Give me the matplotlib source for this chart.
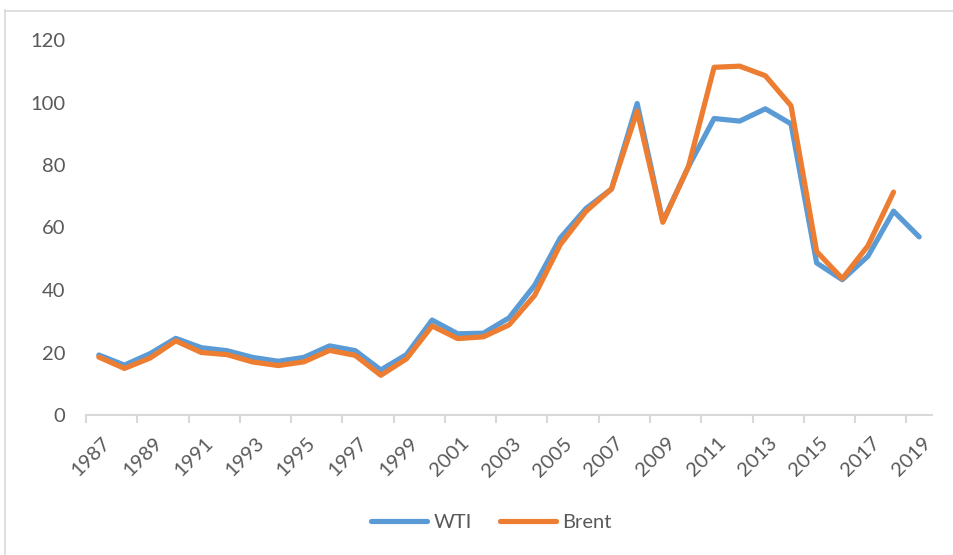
import numpy as np
import matplotlib
matplotlib.use('Agg')
import matplotlib.pyplot as plt
import matplotlib.transforms as mtransforms
from matplotlib.lines import Line2D

# Prix annuels moyens du pétrole (USD / baril)
years = list(range(1987, 2020))
wti = [19.20, 15.97, 19.64, 24.53, 21.54, 20.58, 18.43, 17.20, 18.43, 22.12,
       20.61, 14.42, 19.34, 30.38, 25.98, 26.18, 31.08, 41.51, 56.64, 66.05,
       72.34, 99.67, 61.95, 79.48, 94.88, 94.05, 97.98, 93.17, 48.66, 43.29,
       50.80, 65.23, 56.99]
brent = [18.53, 14.91, 18.23, 23.73, 20.00, 19.32, 16.97, 15.82, 17.02, 20.67,
         19.09, 12.72, 17.97, 28.50, 24.44, 25.02, 28.83, 38.27, 54.52, 65.14,
         72.39, 97.26, 61.67, 79.50, 111.26, 111.63, 108.56, 98.97, 52.32, 43.64,
         54.13, 71.34]

plt.rcParams['font.family'] = ['Lato', 'DejaVu Sans']
txt = '#595959'
grey = '#D9D9D9'

fig = plt.figure(figsize=(9.54, 5.55), dpi=100)
ax = fig.add_axes([86 / 954, 1 - 415 / 555, (932 - 86) / 954, (415 - 40) / 555])

x = np.arange(len(years))
ax.plot(x, wti, color='#5B9BD5', lw=3.75, solid_capstyle='round', solid_joinstyle='round', label='WTI')
ax.plot(x[:len(brent)], brent, color='#ED7D31', lw=3.75, solid_capstyle='round', solid_joinstyle='round', label='Brent')

ax.set_xlim(-0.5, len(years) - 0.5)
ax.set_ylim(0, 120)
ax.set_yticks(range(0, 121, 20))
ax.tick_params(axis='y', length=0, pad=15, labelsize=14.5, labelcolor=txt)

ax.set_xticks(x[::2])
ax.set_xticklabels([str(y) for y in years[::2]], rotation=45, ha='right', va='top',
                   rotation_mode='anchor', fontsize=14.5, color=txt)
ax.tick_params(axis='x', which='major', length=0, pad=14)
shift = mtransforms.ScaledTranslation(3 / 100, 0, fig.dpi_scale_trans)
for lab in ax.get_xticklabels():
    lab.set_transform(lab.get_transform() + shift)
ax.set_xticks(np.arange(-0.5, len(years) - 1, 2), minor=True)
ax.tick_params(axis='x', which='minor', length=6, width=1.5, color=grey)

for s in ['top', 'right', 'left']:
    ax.spines[s].set_visible(False)
ax.spines['bottom'].set_color(grey)
ax.spines['bottom'].set_linewidth(1.5)

fig.legend(loc='center', bbox_to_anchor=(0.515, 1 - 522 / 555), ncol=2, frameon=False,
           fontsize=14.5, labelcolor=txt, handlelength=2.8, handletextpad=0.3, columnspacing=1.4)

# cadre gris autour du graphique
fig.add_artist(Line2D([5.5 / 954, 5.5 / 954], [0, 1 - 10 / 555], color=grey, lw=1.2))
fig.add_artist(Line2D([5.5 / 954, 1], [1 - 10.5 / 555, 1 - 10.5 / 555], color=grey, lw=1.2))

fig.savefig('out.png', dpi=100)
